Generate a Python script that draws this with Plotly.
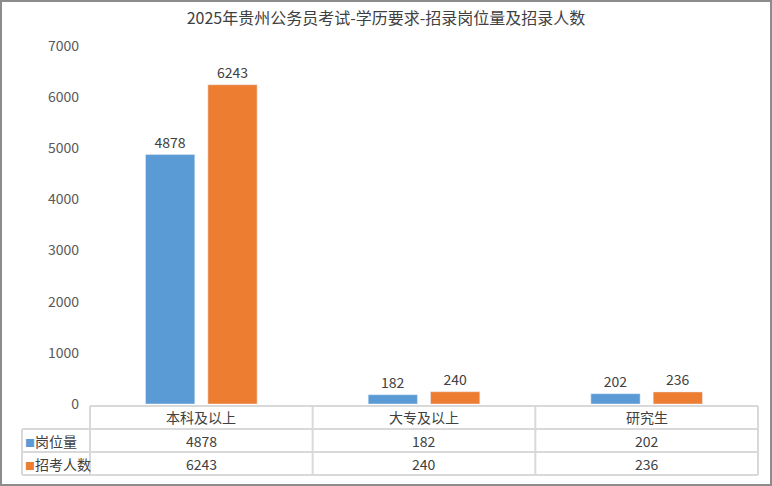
import plotly.graph_objects as go

title = "2025年贵州公务员考试-学历要求-招录岗位量及招录人数"
categories = ["本科及以上", "大专及以上", "研究生"]
series_names = ["岗位量", "招考人数"]
posts = [4878, 182, 202]
applicants = [6243, 240, 236]
colors = ["#5B9BD5", "#ED7D31"]
y_ticks = [0, 1000, 2000, 3000, 4000, 5000, 6000, 7000]

W, H = 772, 486
ML, MR, MT, MB = 22, 14, 46, 82
PW, PH = W - ML - MR, H - MT - MB
PLOT_LEFT = 90
FONT = "Noto Sans CJK SC, Microsoft YaHei, sans-serif"
TXT = "#404040"
GRID = "#D9D9D9"


def px_x(px):
    return (px - ML) / PW


def px_y(py):
    return (H - MB - py) / PH


fig = go.Figure()
for name, vals, col in zip(series_names, [posts, applicants], colors):
    fig.add_trace(go.Bar(
        x=categories, y=vals, name=name, marker_color=col,
        text=[str(v) for v in vals], textposition="outside",
        textfont=dict(size=14, color=TXT, family=FONT), cliponaxis=False,
    ))

shapes = []
annotations = []

x0 = px_x(PLOT_LEFT)
n = len(categories)
bounds = [x0 + (1 - x0) * i / n for i in range(n + 1)]
row_y = [406, 429, 452, 475]
line = dict(color=GRID, width=2)
shapes.append(dict(type="line", xref="paper", yref="paper", x0=x0, x1=1,
                   y0=px_y(row_y[0]), y1=px_y(row_y[0]), line=line))
for ry in row_y[1:]:
    shapes.append(dict(type="line", xref="paper", yref="paper", x0=0, x1=1,
                       y0=px_y(ry), y1=px_y(ry), line=line))
for b in bounds:
    shapes.append(dict(type="line", xref="paper", yref="paper", x0=b, x1=b,
                       y0=px_y(row_y[0]), y1=px_y(row_y[-1]), line=line))
shapes.append(dict(type="line", xref="paper", yref="paper", x0=0, x1=0,
                   y0=px_y(row_y[1]), y1=px_y(row_y[-1]), line=line))

cell_font = dict(size=14, color=TXT, family=FONT)
for i, c in enumerate(categories):
    annotations.append(dict(text=c, xref="paper", yref="paper",
                            x=(bounds[i] + bounds[i + 1]) / 2,
                            y=px_y((row_y[0] + row_y[1]) / 2),
                            xanchor="center", yanchor="middle",
                            showarrow=False, font=cell_font))
for r, (name, vals, col) in enumerate(zip(series_names, [posts, applicants], colors)):
    yc = px_y((row_y[r + 1] + row_y[r + 2]) / 2)
    annotations.append(dict(
        text=f"<span style='font-size:10px;color:{col}'>■</span>{name}",
        xref="paper", yref="paper", x=px_x(23), y=yc, xanchor="left", yanchor="middle",
        showarrow=False, font=cell_font))
    for i, v in enumerate(vals):
        annotations.append(dict(text=str(v), xref="paper", yref="paper",
                                x=(bounds[i] + bounds[i + 1]) / 2, y=yc,
                                xanchor="center", yanchor="middle",
                                showarrow=False, font=cell_font))

shapes.append(dict(type="rect", xref="paper", yref="paper",
                   x0=px_x(1), x1=px_x(W - 1), y0=px_y(H - 1), y1=px_y(1),
                   line=dict(color="#8C8C8C", width=2)))

fig.update_layout(
    width=W, height=H,
    margin=dict(l=ML, r=MR, t=MT, b=MB),
    paper_bgcolor="white", plot_bgcolor="white",
    title=dict(text=title, x=0.5, xanchor="center", y=1 - 18 / H, yanchor="middle",
               font=dict(size=16, color=TXT, family=FONT)),
    showlegend=False,
    barmode="group", bargap=0.44, bargroupgap=0.21,
    xaxis=dict(domain=[x0, 1], showticklabels=False, showline=False, ticks="",
               showgrid=False, zeroline=False),
    yaxis=dict(range=[0, 7000], tickvals=y_ticks, showgrid=False, zeroline=False,
               showline=False, ticks="", ticklabelstandoff=10,
               tickfont=dict(size=14, color="#595959", family=FONT)),
    shapes=shapes, annotations=annotations,
    font=dict(family=FONT),
)

fig.write_html("out.html", config={"displayModeBar": False},
               post_script="document.body.style.margin='0';")
